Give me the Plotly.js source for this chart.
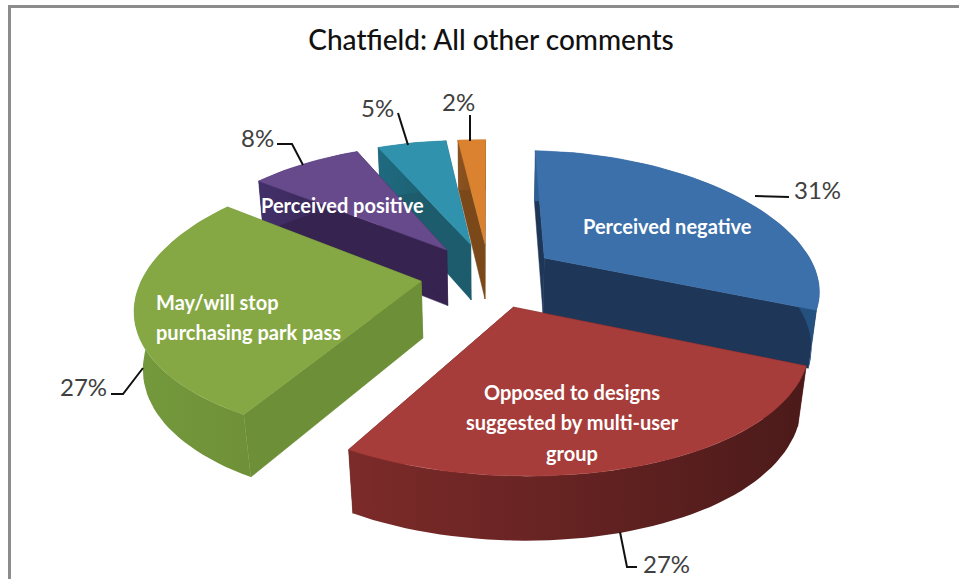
<!DOCTYPE html>
<html>
<head>
<meta charset="utf-8">
<script src="https://cdn.plot.ly/plotly-3.0.1.min.js"></script>
<style>html,body{margin:0;padding:0;background:#fff;}#chart{width:959px;height:579px;}</style>
</head>
<body>
<div id="chart"></div>
<script>
// ---- data ----
var sliceNames   = ['Perceived negative','Opposed to designs suggested by multi-user group','May/will stop purchasing park pass','Perceived positive','(unlabelled 5%)','(unlabelled 2%)'];
var sliceValues  = [31, 27, 27, 8, 5, 2];
var percentTexts = ['31%','27%','27%','8%','5%','2%'];
var chartTitle   = 'Chatfield: All other comments';

// ---- styles ----
var topColors    = ['#3c70aa','#a63d3a','#85a845','#674a8b','#3092ad','#da822f'];
var radialColors = ['#1e3658','#5f2220','#6d8f37','#36234f','#1c5c6c','#7a4819'];
var arcStart     = ['#2c5f96','#7c2b29','#74993c','#42306a','#1f6a80','#8a5220'];
var arcEnd       = ['#24507f','#4c1a1a','#6f9038','#36234f','#1c5c6c','#7a4819'];
var drawOrder    = [5, 4, 3, 0, 2, 1];
var labelLines   = [
  {t:'Perceived negative', x:667, y:226, a:'center'},
  {t:'Opposed to designs', x:572, y:392, a:'center'},
  {t:'suggested by multi-user', x:572, y:422, a:'center'},
  {t:'group', x:572, y:453, a:'center'},
  {t:'May/will stop', x:154, y:302, a:'left'},
  {t:'purchasing park pass', x:154, y:332, a:'left'},
  {t:'Perceived positive', x:342, y:205, a:'center'}
];
var percentPos = [[817,189],[666,563],[83,386],[257,137],[377,107],[458,101]];
var leaderPaths = [
  'M755,196 L789,197',
  'M620,532 L627,567 L637,567',
  'M143,368 L123,394 L111,394',
  'M277,144 L292,144 L303,165',
  'M398,113 L408,145',
  'M470,115 L470,141'
];

// ---- view of the tilted, exploded pie ----
var view = {cx:489, cy:275, A:275, B:130, C:58, px:0.2, py:0.162, q:0.024, explode:0.25, radius:1, skew:4};
function project(X, Y, Z) {
  return [
    view.cx + view.A * X / (1 + view.px * Y + view.q * Z),
    view.cy + view.skew * X + (-view.B * Y + view.C * Z) / (1 + view.py * Y + view.q * Z)
  ];
}
function rad(d) { return d * Math.PI / 180; }
function polar(ox, oy, deg) {
  return [ox + view.radius * Math.sin(rad(deg)), oy + view.radius * Math.cos(rad(deg))];
}
function face(points, fill, grad) {
  var xs = [], ys = [];
  points.forEach(function (p) {
    var q = project(p[0], p[1], p[2]);
    xs.push(q[0]); ys.push(q[1]);
  });
  xs.push(xs[0]); ys.push(ys[0]);
  var tr = {type:'scatter', mode:'lines', x:xs, y:ys, fill:'toself', fillcolor:fill,
            line:{width:0.5, color:fill}, hoverinfo:'skip', showlegend:false};
  if (grad) {
    tr.fillgradient = {type:'horizontal', colorscale:[[0, grad[0]], [1, grad[1]]]};
    tr.line = {width:0};
  }
  return tr;
}

var total = sliceValues.reduce(function (a, b) { return a + b; }, 0);
var starts = [], acc = 0;
sliceValues.forEach(function (v) { starts.push(acc / total * 360); acc += v; });

var traces = [];
drawOrder.forEach(function (i) {
  var a0 = starts[i], a1 = a0 + sliceValues[i] / total * 360, mid = (a0 + a1) / 2;
  var ox = view.explode * Math.sin(rad(mid)), oy = view.explode * Math.cos(rad(mid));
  var arcTop = [], arcBot = [];
  var n = Math.max(6, Math.round((a1 - a0) / 2));
  for (var k = 0; k <= n; k++) {
    var p = polar(ox, oy, a0 + (a1 - a0) * k / n);
    arcTop.push([p[0], p[1], 0]);
    arcBot.push([p[0], p[1], 1]);
  }
  var first = arcTop[0], last = arcTop[n];
  traces.push(face([[ox,oy,0], first, [first[0],first[1],1], [ox,oy,1]], radialColors[i]));
  traces.push(face([[ox,oy,0], last, [last[0],last[1],1], [ox,oy,1]], radialColors[i]));
  traces.push(face(arcTop.concat(arcBot.slice().reverse()), arcEnd[i], [arcStart[i], arcEnd[i]]));
  traces.push(face([[ox,oy,0]].concat(arcTop), topColors[i]));
});

var annotations = [];
labelLines.forEach(function (l) {
  annotations.push({x:l.x, y:l.y, xref:'x', yref:'y', text:l.t, showarrow:false,
    xanchor:l.a, yanchor:'middle', font:{family:'Lato', size:20, color:'#ffffff', weight:700}});
});
percentTexts.forEach(function (t, i) {
  annotations.push({x:percentPos[i][0], y:percentPos[i][1], xref:'x', yref:'y', text:t, showarrow:false,
    xanchor:'center', yanchor:'middle', font:{family:'Lato', size:24, color:'#404040'}});
});

var shapes = leaderPaths.map(function (p) {
  return {type:'path', path:p, xref:'x', yref:'y', line:{color:'#111111', width:2}};
});
shapes.push({type:'line', xref:'x', yref:'y', x0:9.5, x1:9.5, y0:6, y1:579, line:{color:'#8c8c8c', width:3}});
shapes.push({type:'line', xref:'x', yref:'y', x0:8, x1:959, y0:6.5, y1:6.5, line:{color:'#8c8c8c', width:3}});

var layout = {
  width:959, height:579, margin:{l:0, r:0, t:0, b:0},
  paper_bgcolor:'#ffffff', plot_bgcolor:'#ffffff', showlegend:false,
  title:{text:chartTitle, x:491/959, xref:'paper', xanchor:'center', y:1-40/579, yref:'paper', yanchor:'middle',
         font:{family:'Lato', size:28, color:'#111111', weight:500}},
  xaxis:{range:[0,959], visible:false, fixedrange:true},
  yaxis:{range:[579,0], visible:false, fixedrange:true},
  annotations:annotations, shapes:shapes
};
Plotly.newPlot('chart', traces, layout, {displayModeBar:false, staticPlot:true});
</script>
</body>
</html>
